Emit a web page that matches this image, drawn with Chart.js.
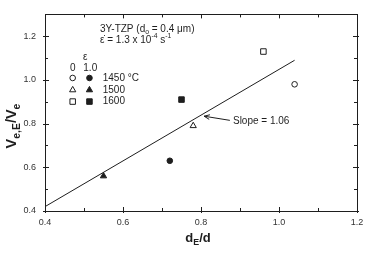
<!DOCTYPE html>
<html><head><meta charset="utf-8">
<script src="https://cdn.jsdelivr.net/npm/chart.js@4"></script>
<style>html,body{margin:0;padding:0;background:#fff;}canvas{display:block}</style>
</head><body>
<canvas id="c" width="375" height="253"></canvas>
<script>
// ---- data ----
const temperatures = ['1450 °C', '1500', '1600'];
const strainLevels = ['0', '1.0'];
const strain0X = [1.04, 0.78, 0.96];
const strain0Y = [0.98, 0.79, 1.13];
const strain1X = [0.72, 0.55, 0.75];
const strain1Y = [0.63, 0.56, 0.91];
const fitX = [0.4, 1.04];
const fitY = [0.42, 1.09];
const xTickLabels = [0.4, 0.6, 0.8, 1.0, 1.2];
const yTickLabels = [0.4, 0.6, 0.8, 1.0, 1.2];
const slopeText = 'Slope = 1.06';

// ---- styles ----
const INK = '#1e1e1e';
const FONT = "'Liberation Sans', Arial, sans-serif";
const shapes = ['circle', 'triangle', 'rect'];
const radii = [2.8, 3.6, 3.9];

const datasets = [];
temperatures.forEach((t, i) => {
  datasets.push({
    label: t + ' ε=0', data: [{x: strain0X[i], y: strain0Y[i]}],
    pointStyle: shapes[i], pointRadius: radii[i], pointBackgroundColor: '#fff',
    pointBorderColor: INK, pointBorderWidth: 1, order: 0
  });
  datasets.push({
    label: t + ' ε=1.0', data: [{x: strain1X[i], y: strain1Y[i]}],
    pointStyle: shapes[i], pointRadius: radii[i], pointBackgroundColor: INK,
    pointBorderColor: INK, pointBorderWidth: 1, order: 0
  });
});
datasets.push({
  label: 'fit', data: fitX.map((x, i) => ({x, y: fitY[i]})), showLine: true,
  borderColor: INK, borderWidth: 1, pointRadius: 0, order: 10
});

function rich(ctx, x, y, parts, size, weight, align, subRatio) {
  const r = subRatio || 0.68;
  const widths = parts.map(([t, m]) => {
    const s = m ? size * r : size;
    ctx.font = `${weight} ${s}px ${FONT}`;
    return ctx.measureText(t).width;
  });
  const total = widths.reduce((a, b) => a + b, 0);
  let cx = align === 'center' ? x - total / 2 : x;
  ctx.textBaseline = 'middle';
  ctx.textAlign = 'left';
  parts.forEach(([t, m], i) => {
    const s = m ? size * r : size;
    ctx.font = `${weight} ${s}px ${FONT}`;
    const dy = m === 'sub' ? size * 0.32 : (m === 'sup' ? -size * 0.38 : 0);
    ctx.fillText(t, cx, y + dy);
    cx += widths[i];
  });
}

const overlay = {
  id: 'overlay',
  afterDraw(chart) {
    const ctx = chart.ctx;
    const xs = chart.scales.x, ys = chart.scales.y;
    const a = chart.chartArea;
    const X = v => xs.getPixelForValue(v), Y = v => ys.getPixelForValue(v);
    ctx.save();
    ctx.strokeStyle = INK; ctx.fillStyle = INK; ctx.lineWidth = 1;
    // frame
    ctx.strokeRect(Math.round(a.left) + 0.5, Math.round(a.top) + 0.5,
      Math.round(a.right - a.left), Math.round(a.bottom - a.top));
    // ticks
    ctx.beginPath();
    for (let k = 4; k <= 12; k++) {
      const v = k / 10, p = Math.round(X(v)) + 0.5, major = k % 2 === 0;
      const out = major ? 2 : 0, inn = major ? 4 : 3;
      ctx.moveTo(p, a.bottom + out); ctx.lineTo(p, a.bottom - inn);
      ctx.moveTo(p, a.top); ctx.lineTo(p, a.top + inn);
    }
    for (let k = 4; k <= 13; k++) {
      const v = k / 10, p = Math.round(Y(v)) + 0.5, major = k % 2 === 0;
      const out = major ? 2 : 0, inn = major ? 4 : 3;
      ctx.moveTo(a.left - out, p); ctx.lineTo(a.left + inn, p);
      ctx.moveTo(a.right + out, p); ctx.lineTo(a.right - inn, p);
    }
    ctx.stroke();

    // axis titles
    rich(ctx, (a.left + a.right) / 2 - 3, 238, [['d', ''], ['E', 'sub'], ['/d', '']], 13, 'bold', 'center');
    ctx.save();
    ctx.translate(12, 126);
    ctx.rotate(-Math.PI / 2);
    rich(ctx, 0, 0, [['V', ''], ['e,E', 'sub'], ['/V', ''], ['e', 'sub']], 14.5, 'bold', 'center', 0.72);
    ctx.restore();

    // header text
    rich(ctx, X(0.541), Y(1.232), [['3Y-TZP (d', ''], ['o', 'sub'], [' = 0.4 μm)', '']], 10, 'normal', 'left');
    rich(ctx, X(0.541), Y(1.182), [['ε\u0307 = 1.3 x 10', ''], ['-4', 'sup'], [' s', ''], ['-1', 'sup']], 10, 'normal', 'left');

    // legend
    ctx.font = `10px ${FONT}`;
    ctx.textAlign = 'center'; ctx.textBaseline = 'middle';
    ctx.fillText('ε', X(0.503), Y(1.104));
    ctx.fillText(strainLevels[0], X(0.471), Y(1.053));
    ctx.fillText(strainLevels[1], X(0.516), Y(1.053));
    const rowY = [1.009, 0.954, 0.901];
    temperatures.forEach((t, i) => {
      const py = Y(rowY[i]);
      ctx.lineWidth = 1;
      ctx.fillStyle = '#fff'; ctx.strokeStyle = INK;
      Chart.helpers.drawPoint(ctx, {pointStyle: shapes[i], radius: radii[i], rotation: 0, borderWidth: 1}, X(0.471), py);
      ctx.fillStyle = INK;
      Chart.helpers.drawPoint(ctx, {pointStyle: shapes[i], radius: radii[i], rotation: 0, borderWidth: 1}, X(0.514), py);
      ctx.font = `10px ${FONT}`;
      ctx.textAlign = 'left'; ctx.textBaseline = 'middle';
      ctx.fillText(t, X(0.548), py);
    });

    // slope annotation with arrow
    const tipX = X(0.808), tipY = Y(0.834), tailX = X(0.874), tailY = Y(0.815);
    ctx.strokeStyle = INK; ctx.lineWidth = 1;
    ctx.beginPath(); ctx.moveTo(tailX, tailY); ctx.lineTo(tipX, tipY); ctx.stroke();
    const ang = Math.atan2(tipY - tailY, tipX - tailX);
    ctx.beginPath();
    ctx.moveTo(tipX - 6 * Math.cos(ang - 0.4), tipY - 6 * Math.sin(ang - 0.4));
    ctx.lineTo(tipX, tipY);
    ctx.lineTo(tipX - 6 * Math.cos(ang + 0.4), tipY - 6 * Math.sin(ang + 0.4));
    ctx.stroke();
    ctx.fillStyle = INK;
    ctx.font = `10px ${FONT}`;
    ctx.textAlign = 'left'; ctx.textBaseline = 'middle';
    ctx.fillText(slopeText, X(0.882), Y(0.81));
    ctx.restore();
  }
};

new Chart(document.getElementById('c'), {
  type: 'scatter',
  data: {datasets},
  options: {
    responsive: false, animation: false, devicePixelRatio: 1,
    layout: {padding: {top: 6.6, right: 18, left: 0, bottom: 0}},
    plugins: {legend: {display: false}, tooltip: {enabled: false}},
    scales: {
      x: {
        type: 'linear', min: 0.4, max: 1.2,
        afterBuildTicks: s => { s.ticks = xTickLabels.map(v => ({value: v})); },
        afterFit: s => { s.height = 42; },
        grid: {display: false, drawTicks: false}, border: {display: false},
        ticks: {padding: 6, color: '#333', font: {family: FONT, size: 9},
          callback: v => Number(v).toFixed(1)}
      },
      y: {
        type: 'linear', min: 0.4, max: 1.3,
        afterBuildTicks: s => { s.ticks = yTickLabels.map(v => ({value: v})); },
        afterFit: s => { s.width = 45; },
        grid: {display: false, drawTicks: false}, border: {display: false},
        ticks: {padding: 9, color: '#333', font: {family: FONT, size: 9},
          callback: v => Number(v).toFixed(1)}
      }
    }
  },
  plugins: [overlay]
});
</script>
</body></html>
